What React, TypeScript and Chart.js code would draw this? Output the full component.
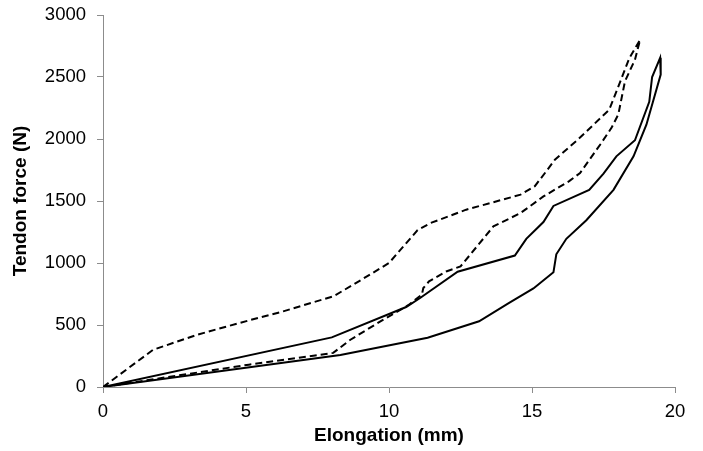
import React, { useEffect, useRef } from "react";
import { Chart, registerables } from "chart.js";

Chart.register(...registerables);

// Solid loop: loading (upper) then unloading (lower) — elongation (mm), force (N)
const solidLoadX = [0, 8.0, 10.6, 11.1, 12.4, 14.4, 14.8, 15.4, 15.75, 17.0, 17.5, 17.95, 18.6, 19.1, 19.2, 19.48];
const solidLoadY = [0, 400, 645, 720, 930, 1060, 1195, 1330, 1460, 1590, 1720, 1860, 1990, 2300, 2500, 2655];
const solidUnloadX = [19.48, 19.5, 19.0, 18.55, 17.85, 16.9, 16.2, 15.85, 15.75, 15.05, 14.2, 13.15, 11.35, 8.3, 0];
const solidUnloadY = [2655, 2520, 2115, 1860, 1590, 1345, 1195, 1070, 925, 795, 678, 530, 397, 258, 0];

// Dashed loop
const dashLoadX = [0, 1.75, 3.3, 5.1, 6.3, 8.05, 8.75, 10.0, 11.0, 11.45, 12.7, 14.6, 15.1, 15.5, 15.8, 16.6, 17.7, 18.0, 18.4, 18.78];
const dashLoadY = [0, 300, 422, 537, 610, 731, 825, 1000, 1265, 1322, 1430, 1551, 1620, 1740, 1833, 1994, 2236, 2411, 2650, 2800];
const dashUnloadX = [18.78, 18.6, 18.25, 18.02, 17.78, 17.4, 16.68, 16.3, 15.4, 14.6, 13.65, 12.5, 12.0, 11.4, 11.2, 11.15, 10.7, 9.7, 8.65, 8.05, 5.1, 0];
const dashUnloadY = [2800, 2640, 2465, 2200, 2090, 1960, 1726, 1660, 1537, 1403, 1295, 972, 932, 852, 798, 745, 664, 529, 381, 275, 180, 0];

const xTicks = [0, 5, 10, 15, 20];
const yTicks = [0, 500, 1000, 1500, 2000, 2500, 3000];

const xTitle = "Elongation (mm)";
const yTitle = "Tendon force (N)";

function toPoints(xs: number[], ys: number[]) {
  return xs.map((x, i) => ({ x, y: ys[i] }));
}

export default function App() {
  const ref = useRef<HTMLCanvasElement | null>(null);

  useEffect(() => {
    if (!ref.current) return;
    const axisColor = "#8c8c8c";
    const family = "'Liberation Sans', Arial, sans-serif";
    const font = { family, size: 18.5 };
    const titleFont = { family, size: 19, weight: "bold" as const };
    const chart = new Chart(ref.current, {
      type: "scatter",
      data: {
        datasets: [
          {
            data: [...toPoints(solidLoadX, solidLoadY), ...toPoints(solidUnloadX, solidUnloadY).slice(1)],
            showLine: true,
            borderColor: "#000",
            borderWidth: 2,
            pointRadius: 0,
            fill: false,
            tension: 0,
          },
          {
            data: [...toPoints(dashLoadX, dashLoadY), ...toPoints(dashUnloadX, dashUnloadY).slice(1)],
            showLine: true,
            borderColor: "#000",
            borderWidth: 2,
            borderDash: [7, 4],
            pointRadius: 0,
            fill: false,
            tension: 0,
          },
        ],
      },
      options: {
        animation: false,
        responsive: false,
        maintainAspectRatio: false,
        layout: { padding: { left: 0, right: 28, top: 15, bottom: 0 } },
        plugins: { legend: { display: false }, tooltip: { enabled: false } },
        scales: {
          x: {
            type: "linear",
            min: 0,
            max: 20,
            afterBuildTicks: (s: any) => {
              s.ticks = xTicks.map((v) => ({ value: v }));
            },
            afterFit: (s: any) => {
              s.height = 64;
              s.paddingLeft = 0;
              s.paddingRight = 0;
            },
            ticks: { color: "#000", font, padding: 8, maxRotation: 0, callback: (v: any) => String(v) },
            grid: { drawOnChartArea: false, drawTicks: true, tickLength: 6, color: axisColor },
            border: { display: true, color: axisColor, width: 1 },
            title: { display: true, text: xTitle, color: "#000", font: titleFont, padding: { top: 0, bottom: 3.5 } },
          },
          y: {
            type: "linear",
            min: 0,
            max: 3000,
            afterBuildTicks: (s: any) => {
              s.ticks = yTicks.map((v) => ({ value: v }));
            },
            afterFit: (s: any) => {
              s.width = 103;
              s.paddingTop = 0;
              s.paddingBottom = 0;
            },
            ticks: { color: "#000", font, padding: 11, callback: (v: any) => String(v) },
            grid: { drawOnChartArea: false, drawTicks: true, tickLength: 6, color: axisColor },
            border: { display: true, color: axisColor, width: 1 },
            title: { display: true, text: yTitle, color: "#000", font: titleFont, padding: { top: 9, bottom: 0 } },
          },
        },
      },
    } as any);
    return () => chart.destroy();
  }, []);

  return (
    <div style={{ position: "fixed", left: 0, top: 0, width: 703, height: 451, background: "#fff" }}>
      <canvas ref={ref} width={703} height={451} style={{ width: 703, height: 451 }} />
    </div>
  );
}
